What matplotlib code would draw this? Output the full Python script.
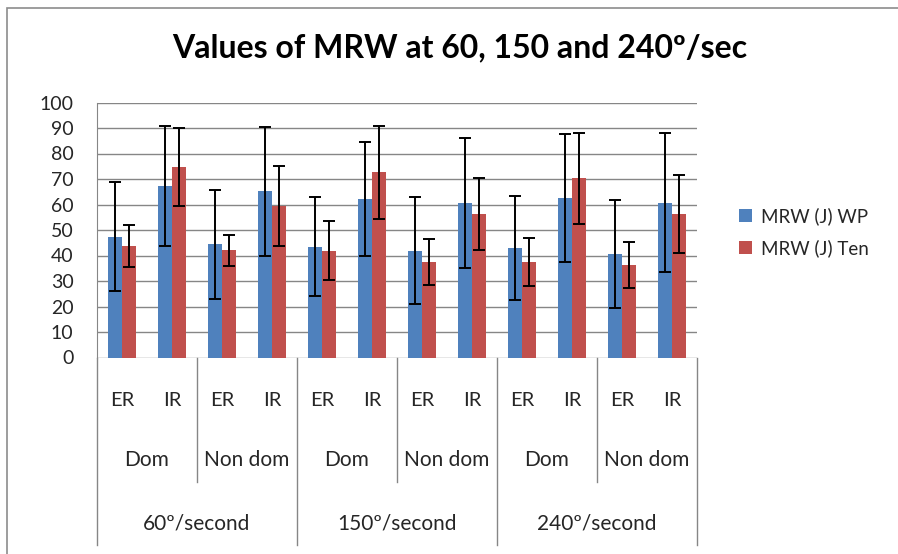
import numpy as np
import matplotlib
matplotlib.use("Agg")
import matplotlib.pyplot as plt
from matplotlib.transforms import blended_transform_factory
from matplotlib.patches import Rectangle

plt.rcParams['font.family'] = ['Lato', 'DejaVu Sans']

# data
motions  = ["ER", "IR"] * 6
sides    = ["Dom", "Non dom"] * 3
speeds   = ["60º/second", "150º/second", "240º/second"]

wp_mean  = [47.4, 67.4, 44.4, 65.1, 43.5, 62.1, 41.9, 60.6, 42.8, 62.4, 40.6, 60.7]
wp_sd    = [21.3, 23.5, 21.4, 25.4, 19.4, 22.3, 20.9, 25.4, 20.4, 25.1, 21.2, 27.2]
ten_mean = [43.7, 74.8, 42.0, 59.5, 41.9, 72.6, 37.5, 56.3, 37.6, 70.2, 36.3, 56.3]
ten_sd   = [8.2, 15.3, 6.0, 15.6, 11.6, 18.2, 9.0, 14.2, 9.4, 17.9, 9.0, 15.4]

W, H = 898, 554
fig = plt.figure(figsize=(W / 100, H / 100), dpi=100)

# plot area in pixels (left, top, right, bottom)
pl, pt, pr, pb = 97, 102.5, 697, 357.5
ax = fig.add_axes([pl / W, 1 - pb / H, (pr - pl) / W, (pb - pt) / H])

blue = "#4F81BD"
red = "#C0504D"
grid_c = "#868686"
txt_c = "#262626"

x = np.arange(len(motions))
bw = 0.28
ax.bar(x - bw / 2, wp_mean, bw, color=blue, label="MRW (J) WP", zorder=3)
ax.bar(x + bw / 2, ten_mean, bw, color=red, label="MRW (J) Ten", zorder=3)
ax.errorbar(x - bw / 2, wp_mean, yerr=wp_sd, fmt="none", ecolor="black",
            elinewidth=1.4, capsize=4, capthick=1.4, zorder=4)
ax.errorbar(x + bw / 2, ten_mean, yerr=ten_sd, fmt="none", ecolor="black",
            elinewidth=1.4, capsize=4, capthick=1.4, zorder=4)

ax.set_xlim(-0.5, len(motions) - 0.5)
ax.set_ylim(0, 100)
ax.set_yticks(np.arange(0, 101, 10))
ax.yaxis.grid(True, color=grid_c, linewidth=1.0, zorder=0)
ax.set_xticks([])
ax.tick_params(axis="y", length=0, pad=17, labelsize=14, labelcolor=txt_c)
for s in ["top", "right", "bottom"]:
    ax.spines[s].set_visible(False)
ax.spines["left"].set_color(grid_c)

# category table under the axis
tr = blended_transform_factory(ax.transData, fig.transFigure)
fy = lambda py: 1 - py / H
for i in range(len(motions)):
    ax.text(x[i], fy(400), motions[i], transform=tr, ha="center", va="center",
            fontsize=14.5, color=txt_c)
for j in range(len(sides)):
    ax.text(2 * j + 0.5, fy(460), sides[j], transform=tr, ha="center",
            va="center", fontsize=15, color=txt_c)
for k in range(len(speeds)):
    ax.text(4 * k + 1.5, fy(523), speeds[k], transform=tr, ha="center",
            va="center", fontsize=15, color=txt_c)
for b in np.arange(-0.5, 12, 2):
    low = 545 if (b + 0.5) % 4 == 0 else 482
    ax.plot([b, b], [fy(pb), fy(low)], transform=tr, color=grid_c,
            linewidth=1.0, clip_on=False)

fig.text(460 / W, fy(48), "Values of MRW at 60, 150 and 240º/sec",
         ha="center", va="center", fontsize=23, fontweight="bold")

fig.legend(loc="center left", bbox_to_anchor=(722 / W, fy(232)), frameon=False,
           fontsize=13.5, handlelength=0.7, handleheight=0.7, handletextpad=0.5,
           labelspacing=0.75, labelcolor=txt_c)

# outer chart border
fig.patches.append(Rectangle((7 / W, -0.1), 1.1, 1 - 8 / H + 0.1,
                             transform=fig.transFigure, fill=False,
                             edgecolor="#8c8c8c", linewidth=1.2))

fig.savefig("out.png", dpi=100)
